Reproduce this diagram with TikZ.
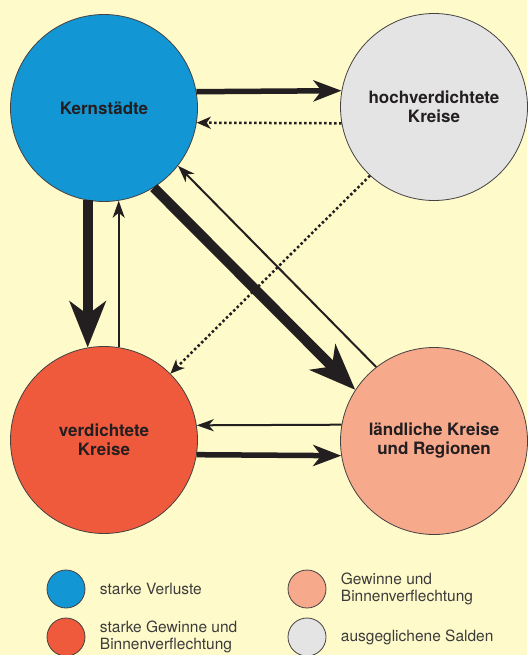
\documentclass[tikz,border=0pt]{standalone}
\usepackage{fontspec}
\setmainfont{TeX Gyre Heros}
\usepackage{xcolor}
\usepackage{tikz}
\usetikzlibrary{arrows.meta}

\definecolor{bgyellow}{HTML}{FFFAC9}
\definecolor{kernblue}{HTML}{1396D4}
\definecolor{hochgrey}{HTML}{E4E4E5}
\definecolor{verdred}{HTML}{F05A3C}
\definecolor{landpink}{HTML}{F7A98C}
\definecolor{inkdark}{HTML}{231F20}
\definecolor{legendgrey}{HTML}{3C3C3C}

\tikzset{
    region/.style={circle, draw=inkdark!85, line width=0.8pt, minimum size=187pt,
        inner sep=0pt, align=center, text=inkdark,
        font=\fontsize{17}{19}\selectfont\bfseries},
    legenddot/.style={circle, draw=inkdark!85, line width=0.8pt, minimum size=38pt, inner sep=0pt},
    legendlabel/.style={anchor=west, align=left, text=legendgrey,
        font=\fontsize{15.5}{17}\selectfont},
    strongflow/.style={draw=inkdark, line width=10pt,
        -{Stealth[length=46pt,width=36pt,inset=13pt]}},
    mediumflow/.style={draw=inkdark, line width=5.5pt,
        -{Stealth[length=28pt,width=21pt,inset=8pt]}},
    weakflow/.style={draw=inkdark, line width=2pt,
        -{Stealth[length=17pt,width=12pt,inset=5pt]}},
    dottedflow/.style={draw=inkdark, line width=2.5pt, dash pattern=on 2.5pt off 2.5pt,
        -{Stealth[length=14pt,width=12pt,inset=4pt]}},
}

\begin{document}
\begin{tikzpicture}[x=1pt,y=-1pt]
    % Background
    \fill[bgyellow] (0,0) rectangle (527,655);
    \useasboundingbox (0,0) rectangle (527,655);

    % The four regions
    \node[region, fill=kernblue] (kern) at (104,108) {Kernstädte};
    \node[region, fill=hochgrey] (hoch) at (434,107) {hochverdichtete\\Kreise};
    \node[region, fill=verdred] (verd) at (104,440) {verdichtete\\Kreise};
    \node[region, fill=landpink] (land) at (434,441) {ländliche Kreise\\und Regionen};

    % Flows between the regions
    \draw[mediumflow] (kern.10) -- (hoch.170);
    \draw[dottedflow] (hoch.190) -- (kern.-9);
    \draw[strongflow] (kern.260) -- (verd.100);
    \draw[weakflow] (verd.81) -- (kern.279);
    \draw[strongflow] (kern.-58) -- (land.147);
    \draw[weakflow] (land.128) -- (kern.-38);
    \draw[dottedflow] (hoch.227) -- (verd.45);
    \draw[weakflow] (land.170) -- (verd.9);
    \draw[mediumflow] (verd.-9) -- (land.189);

    % Legend
    \foreach \col/\px/\py/\txt in {kernblue/66/589/{starke Verluste},
            verdred/66/637/{starke Gewinne und\\Binnenverflechtung},
            landpink/307/589/{Gewinne und\\Binnenverflechtung},
            hochgrey/307/637/{ausgeglichene Salden}} {
        \node[legenddot, fill=\col] (dot\px\py) at (\px,\py) {};
        \node[legendlabel] at ([xshift=11pt]dot\px\py.east) {\txt};
    }
\end{tikzpicture}
\end{document}
